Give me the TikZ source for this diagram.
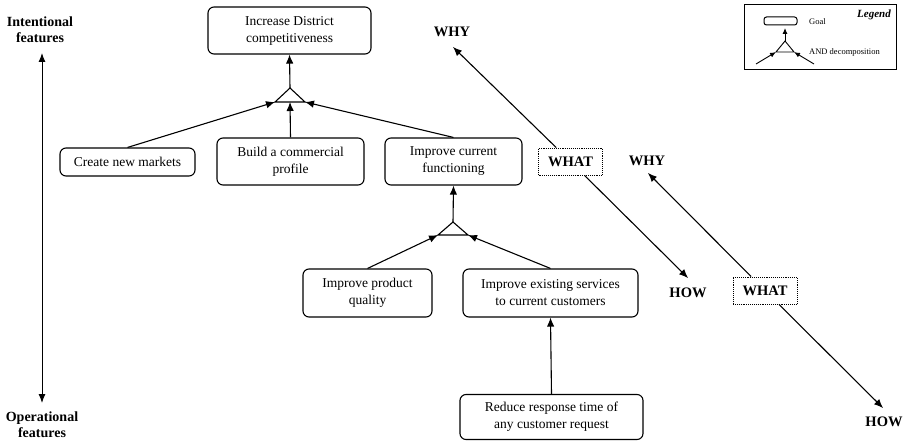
\documentclass[tikz,border=0pt]{standalone}
\usepackage{fontspec}
\setmainfont{Liberation Serif}
\usetikzlibrary{arrows.meta}
\begin{document}
\begin{tikzpicture}[x=1pt,y=-1pt,
  goal/.style={draw, rounded corners=6pt, line width=1.1pt, align=center,
    font=\fontsize{13.5}{17}\selectfont, inner sep=0pt},
  whatbox/.style={draw, densely dotted, line width=0.9pt, inner sep=0pt,
    minimum width=64pt, minimum height=27pt, font=\fontsize{14.5}{16}\selectfont\bfseries},
  dirlabel/.style={font=\fontsize{14.5}{16}\selectfont\bfseries, inner sep=0pt},
  sidelabel/.style={font=\fontsize{14}{16}\selectfont\bfseries, align=center, inner sep=0pt},
  link/.style={line width=1.1pt, -{Latex[length=9pt,width=7.5pt]}},
  andtri/.style={line width=1.1pt, line join=miter},
  smalltext/.style={font=\fontsize{8.5}{10}\selectfont, inner sep=0pt, anchor=west}
]
\useasboundingbox (0,0) rectangle (904,441);

% side scale between intentional and operational features
\node[sidelabel] (intent) at (40,30) {Intentional\\features};
\node[sidelabel] (oper) at (42,425) {Operational\\features};
\coordinate (scaletop) at (42,53);
\coordinate (scalebot) at (42,403);
\draw[line width=1pt, {Latex[length=9pt,width=7pt]}-{Latex[length=9pt,width=7pt]}] (scaletop) -- (scalebot);

% goals
\node[goal, minimum width=163pt, minimum height=47pt] (top) at (289.5,30.5) {Increase District\\competitiveness};
\node[goal, minimum width=135pt, minimum height=28pt] (create) at (127.5,162) {Create new markets};
\node[goal, minimum width=147pt, minimum height=47pt] (build) at (290.5,161.5) {Build a commercial\\profile};
\node[goal, minimum width=137pt, minimum height=47pt] (cur) at (453.5,161.5) {Improve current\\functioning};
\node[goal, minimum width=129pt, minimum height=48pt] (prod) at (367.5,293) {Improve product\\quality};
\node[goal, minimum width=175pt, minimum height=48pt] (exist) at (550.5,293) {Improve existing services\\to current customers};
\node[goal, minimum width=183pt, minimum height=45pt] (reduce) at (551.5,417) {Reduce response time of\\any customer request};

% first AND decomposition
\coordinate (a1top) at (290,88);
\coordinate (a1l) at (275,102);
\coordinate (a1r) at (305,102);
\coordinate (a1m) at (290,102);
\draw[andtri] (a1top) -- (a1l) -- (a1r) -- cycle;
\draw[link] (a1top) -- (top.south);
\draw[link] (create.north) -- (a1l);
\draw[link] (build.north) -- (a1m);
\draw[link] (cur.north) -- (a1r);

% second AND decomposition
\coordinate (a2top) at (453,222);
\coordinate (a2l) at (438,235);
\coordinate (a2r) at (468,235);
\draw[andtri] (a2top) -- (a2l) -- (a2r) -- cycle;
\draw[link] (a2top) -- (cur.south);
\draw[link] (prod.north) -- (a2l);
\draw[link] (exist.north) -- (a2r);

% refinement of the service goal
\draw[link] (reduce.north) -- (exist.south);

% why / what / how axes
\node[dirlabel] (why1) at (452,32) {WHY};
\node[whatbox] (what1) at (570.5,161.5) {WHAT};
\node[dirlabel] (how1) at (688,292.5) {HOW};
\coordinate (why1tip) at (453,47);
\coordinate (how1tip) at (688,278);
\draw[link] (what1) -- (why1tip);
\draw[link] (what1) -- (how1tip);

\node[dirlabel] (why2) at (647,161) {WHY};
\node[whatbox] (what2) at (765,290.5) {WHAT};
\node[dirlabel] (how2) at (884,422) {HOW};
\coordinate (why2tip) at (648,173);
\coordinate (how2tip) at (883,408);
\draw[link] (what2) -- (why2tip);
\draw[link] (what2) -- (how2tip);

% legend
\node[draw, line width=1pt, minimum width=152pt, minimum height=65pt, inner sep=0pt] (legend) at (820,37.5) {};
\node[font=\fontsize{11}{12}\selectfont\bfseries\itshape, inner sep=0pt, anchor=east] (legtitle) at (891,15) {Legend};
\node[draw, rounded corners=2.5pt, line width=1pt, minimum width=33pt, minimum height=8pt, inner sep=0pt] (leggoal) at (780.5,21) {};
\node[smalltext] (leggoaltxt) at (809,22) {Goal};
\node[smalltext] (legandtxt) at (809,52) {AND decomposition};
\coordinate (ltop) at (785,41);
\coordinate (ll) at (776,52);
\coordinate (lr) at (794,52);
\coordinate (lup) at (785,28);
\coordinate (lfromleft) at (756,64);
\coordinate (lfromright) at (814,64);
\draw[line width=0.9pt, line join=miter] (ltop) -- (ll) -- (lr) -- cycle;
\draw[line width=0.9pt, -{Latex[length=6pt,width=5pt]}] (ltop) -- (lup);
\draw[line width=0.9pt, -{Latex[length=6pt,width=5pt]}] (lfromleft) -- (ll);
\draw[line width=0.9pt, -{Latex[length=6pt,width=5pt]}] (lfromright) -- (lr);
\end{tikzpicture}
\end{document}
